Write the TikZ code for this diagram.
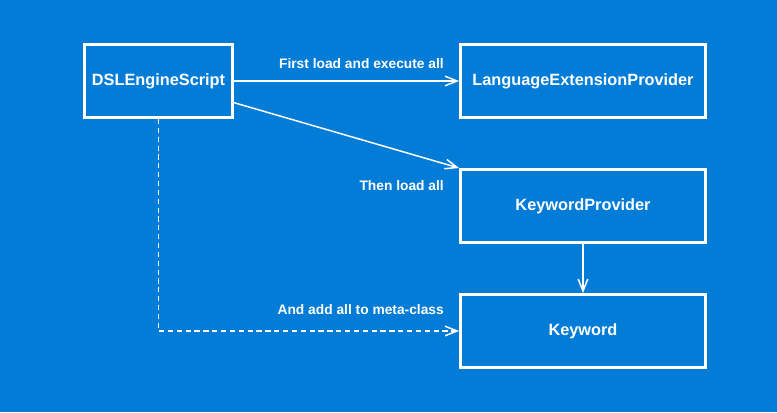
\documentclass[tikz,border=0pt]{standalone}
\usepackage{fontspec}
\setmainfont{Liberation Sans}
\usepackage{xcolor}
\usepackage{tikz}
\usetikzlibrary{arrows.meta,positioning}
\definecolor{PlanBlue}{HTML}{037CD8}

\begin{document}
\begin{tikzpicture}[
		box/.style={draw=white,line width=2.1pt,minimum width=3.7cm,minimum height=1.825cm,inner sep=0pt,text=white,font=\fontsize{11.6}{14}\selectfont\bfseries},
		wide/.style={box,minimum width=6.125cm},
		link/.style={-{Straight Barb[length=3mm,width=2.4mm]},white,line width=1.05pt},
		edgelabel/.style={inner sep=0pt,text=white,font=\fontsize{9.8}{12}\selectfont\bfseries}
	]
		\fill[PlanBlue] (0,0) rectangle (19.425,-10.3);
		\useasboundingbox (0,0) rectangle (19.425,-10.3);
		% boxes
		\node[box] (script) at (3.9625,-2.025) {DSLEngineScript};
		\node[wide] (extprov) at (14.575,-2.025) {LanguageExtensionProvider};
		\node[wide] (kwprov) at (14.575,-5.15) {KeywordProvider};
		\node[wide] (kw) at (14.575,-8.275) {Keyword};
		% connectors
		\draw[link] (script) -- (extprov);
		\draw[link] (script.-16) -- (kwprov.north west);
		\draw[link] (kwprov) -- (kw);
		\draw[link,dash pattern=on 3.7pt off 2.6pt] (script.south) |- (kw.west);
		% labels
		\node[edgelabel,above left=0.3cm and 0.375cm of extprov.west,anchor=south east] (firstlbl) {First load and execute all};
		\node[edgelabel,above left=0.375cm and 0.375cm of kwprov.west,anchor=south east] (thenlbl) {Then load all};
		\node[edgelabel,above left=0.4cm and 0.375cm of kw.west,anchor=south east] (addlbl) {And add all to meta-class};
	\end{tikzpicture}
\end{document}
